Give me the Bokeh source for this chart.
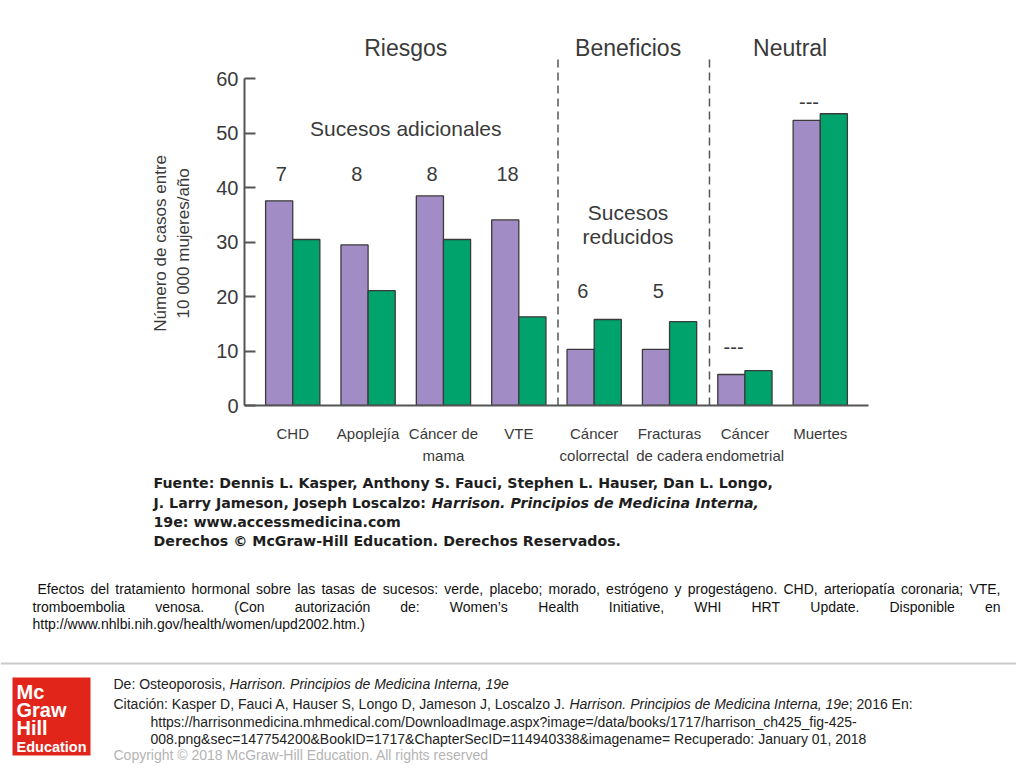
import math
from bokeh.plotting import figure
from bokeh.models import ColumnDataSource, FixedTicker, Range1d
from bokeh.transform import dodge
from bokeh.core.properties import value
from bokeh.embed import file_html
from bokeh.resources import INLINE

# ---------------- data ----------------
categories = ["CHD", "Apoplejía", "Cáncer de\nmama", "VTE", "Cáncer\ncolorrectal",
              "Fracturas\nde cadera", "Cáncer\nendometrial", "Muertes"]
estrogen_progestin = [37.6, 29.5, 38.5, 34.1, 10.3, 10.3, 5.7, 52.4]   # morado
placebo = [30.5, 21.1, 30.5, 16.3, 15.8, 15.4, 6.4, 53.6]              # verde
event_labels = ["7", "8", "8", "18", "6", "5", "---", "---"]
event_label_y = [42.6, 42.6, 42.6, 42.6, 21.1, 21.1, 10.7, 55.7]
y_ticks = [0, 10, 20, 30, 40, 50, 60]
y_title = ["Número de casos entre", "10 000 mujeres/año"]
group_titles = ["Riesgos", "Beneficios", "Neutral"]
group_title_x = [1.5, 4.45, 6.6]
group_separators = [3.52, 5.53]

source_lines = [
    "Fuente: Dennis L. Kasper, Anthony S. Fauci, Stephen L. Hauser, Dan L. Longo,",
    "J. Larry Jameson, Joseph Loscalzo: ",
    "Harrison. Principios de Medicina Interna,",
    "19e: www.accessmedicina.com",
    "Derechos © McGraw-Hill Education. Derechos Reservados.",
]
caption_lines = [
    "Efectos del tratamiento hormonal sobre las tasas de sucesos: verde, placebo; morado, estrógeno y progestágeno. CHD, arteriopatía coronaria; VTE,",
    "tromboembolia venosa. (Con autorización de: Women’s Health Initiative, WHI HRT Update. Disponible en",
    "http://www.nhlbi.nih.gov/health/women/upd2002.htm.)",
]

PURPLE = "#A18CC5"
GREEN = "#00A36C"
EDGE = "#3a3a3a"
AXIS = "#555555"
TXT = "#3a3a3a"
FONT = "Liberation Sans"

# ---------------- chart ----------------
idx = list(range(len(categories)))
src = ColumnDataSource(dict(x=idx, ep=estrogen_progestin, pl=placebo,
                            lab=event_labels, laby=event_label_y))

p = figure(frame_width=624, frame_height=381,
           x_range=Range1d(-0.64, 7.64), y_range=Range1d(0, 70),
           output_backend="svg", toolbar_location=None,
           min_border_left=244, min_border_right=148,
           min_border_top=24, min_border_bottom=63)
p.xgrid.grid_line_color = None
p.ygrid.grid_line_color = None
p.outline_line_color = None
p.background_fill_color = "white"
p.border_fill_color = "white"

p.vbar(x=dodge("x", -0.18), top="ep", bottom=0, width=0.36, source=src,
       fill_color=PURPLE, line_color=EDGE, line_width=1.3)
p.vbar(x=dodge("x", 0.18), top="pl", bottom=0, width=0.36, source=src,
       fill_color=GREEN, line_color=EDGE, line_width=1.3)

p.text(x=dodge("x", -0.15), y="laby", text="lab", source=src,
       text_font=value(FONT), text_font_size="20px", text_color=TXT,
       text_align="center", text_baseline="middle")

p.segment(x0=group_separators, y0=[0] * len(group_separators),
          x1=group_separators, y1=[63.9] * len(group_separators),
          line_color=AXIS, line_width=1.5, line_dash="8 5")

p.text(x=group_title_x, y=[65.6] * 3, text=group_titles,
       text_font=value(FONT), text_font_size="23px", text_color=TXT,
       text_align="center", text_baseline="middle")
p.text(x=[1.5, 4.45, 4.45], y=[50.9, 35.5, 31.0],
       text=["Sucesos adicionales", "Sucesos", "reducidos"],
       text_font=value(FONT), text_font_size="21px", text_color=TXT,
       text_align="center", text_baseline="middle")

yax = p.yaxis[0]
yax.ticker = FixedTicker(ticks=y_ticks)
yax.bounds = (0, 60)
yax.major_tick_in = 11
yax.major_tick_out = 0
yax.minor_tick_line_color = None
yax.axis_line_color = AXIS
yax.axis_line_width = 2
yax.major_tick_line_color = AXIS
yax.major_tick_line_width = 2
yax.major_label_text_font = FONT
yax.major_label_text_font_size = "20px"
yax.major_label_text_color = TXT
yax.major_label_standoff = 6
# the label is centred on the frame; trailing no-break spaces move the visible
# text down to the middle of the 0-60 axis line
NB = "\u00a0" * 12
yax.axis_label = y_title[0] + NB + "\n" + y_title[1] + NB
yax.axis_label_text_font = FONT
yax.axis_label_text_font_size = "17px"
yax.axis_label_text_font_style = "normal"
yax.axis_label_text_color = TXT
yax.axis_label_standoff = 20

xax = p.xaxis[0]
xax.ticker = FixedTicker(ticks=idx)
xax.major_label_overrides = {i: c for i, c in enumerate(categories)}
xax.major_tick_line_color = None
xax.minor_tick_line_color = None
xax.axis_line_color = AXIS
xax.axis_line_width = 2
xax.major_label_standoff = 13
xax.major_label_text_font = FONT
xax.major_label_text_font_size = "15px"
xax.major_label_text_color = TXT
xax.major_label_text_line_height = 1.3

# ---------------- slide texts ----------------
AW = {' ': 278, '!': 278, '"': 355, '(': 333, ')': 333, ',': 278, '-': 333, '.': 278,
      '/': 278, ':': 278, ';': 278, '?': 556, '=': 584, '&': 667, '_': 556, '’': 222,
      "'": 191, '©': 737,
      'A': 667, 'B': 667, 'C': 722, 'D': 722, 'E': 667, 'F': 611, 'G': 778, 'H': 722,
      'I': 278, 'J': 500, 'K': 667, 'L': 556, 'M': 833, 'N': 722, 'O': 778, 'P': 667,
      'Q': 778, 'R': 722, 'S': 667, 'T': 611, 'U': 722, 'V': 667, 'W': 944, 'X': 667,
      'Y': 667, 'Z': 611,
      'a': 556, 'b': 556, 'c': 500, 'd': 556, 'e': 556, 'f': 278, 'g': 556, 'h': 556,
      'i': 222, 'j': 222, 'k': 500, 'l': 222, 'm': 833, 'n': 556, 'o': 556, 'p': 556,
      'q': 556, 'r': 333, 's': 500, 't': 278, 'u': 556, 'v': 500, 'w': 722, 'x': 500,
      'y': 500, 'z': 500, 'á': 556, 'é': 556, 'í': 278, 'ó': 556, 'ú': 556, 'ñ': 556}


def aw(s, size):
    return sum(AW.get(ch, 556) for ch in s) * size / 1000.0


q = figure(width=1016, height=298, x_range=Range1d(0, 1016), y_range=Range1d(766, 468),
           output_backend="svg", toolbar_location=None, min_border=0,
           x_axis_location=None, y_axis_location=None)
q.grid.grid_line_color = None
q.outline_line_color = None
q.background_fill_color = "white"
q.border_fill_color = "white"


def put(x, y, text, size, color, font=FONT, style="normal"):
    q.text(x=[x], y=[y], text=[text], text_font=value(font), text_font_size=size,
           text_color=color, text_font_style=style, text_align="left",
           text_baseline="middle")


def justify(line, x0, x1, y, size, color):
    words = line.split(" ")
    widths = [aw(w, size) for w in words]
    gap = (x1 - x0 - sum(widths)) / (len(words) - 1)
    xs = []
    x = x0
    for w in widths:
        xs.append(x)
        x += w + gap
    q.text(x=xs, y=[y] * len(words), text=words, text_font=value(FONT),
           text_font_size=f"{size}px", text_color=color, text_align="left",
           text_baseline="middle")


# Fuente block
SF = "DejaVu Sans"
put(153, 482, source_lines[0], "14.2px", "#1e1e1e", SF, "bold")
put(153, 502, source_lines[1], "14.2px", "#1e1e1e", SF, "bold")
put(431, 502, source_lines[2], "14.2px", "#1e1e1e", SF, "bold italic")
put(153, 521, source_lines[3], "14.2px", "#1e1e1e", SF, "bold")
put(153, 540, source_lines[4], "14.2px", "#1e1e1e", SF, "bold")

# caption
justify(caption_lines[0], 37, 1000, 588, 14, "#111111")
justify(caption_lines[1], 32, 1000, 606, 14, "#111111")
put(32, 623, caption_lines[2], "14px", "#111111")

# footer rule
q.segment(x0=[0], y0=[663], x1=[1016], y1=[663], line_color="#c9c9c9", line_width=2)

# logo
q.quad(left=[12], right=[90], top=[677], bottom=[755], fill_color="#E1251B", line_color=None)
for t, yy, sz in [("Mc", 691, "20px"), ("Graw", 709, "20px"), ("Hill", 727, "20px"),
                  ("Education", 746, "14.5px")]:
    put(16, yy, t, sz, "white", FONT, "bold")

# footer texts
FS = 14
a = "De: Osteoporosis, "
put(113, 683, a, f"{FS}px", "#222222")
put(113 + aw(a, FS), 683, "Harrison. Principios de Medicina Interna, 19e", f"{FS}px", "#222222", style="italic")

c1 = "Citación: Kasper D, Fauci A, Hauser S, Longo D, Jameson J, Loscalzo J. "
c2 = "Harrison. Principios de Medicina Interna, 19e"
c3 = "; 2016 En:"
put(113, 703, c1, f"{FS}px", "#222222")
put(113 + aw(c1, FS), 703, c2, f"{FS}px", "#222222", style="italic")
put(113 + aw(c1, FS) + aw(c2, FS), 703, c3, f"{FS}px", "#222222")
put(150, 721, "https://harrisonmedicina.mhmedical.com/DownloadImage.aspx?image=/data/books/1717/harrison_ch425_fig-425-",
    f"{FS}px", "#222222")
put(150, 738, "008.png&sec=147754200&BookID=1717&ChapterSecID=114940338&imagename= Recuperado: January 01, 2018",
    f"{FS}px", "#222222")
put(113, 754, "Copyright © 2018 McGraw-Hill Education. All rights reserved", f"{FS}px", "#b4b4b4")

open("out.html", "w").write(file_html([p, q], INLINE))
